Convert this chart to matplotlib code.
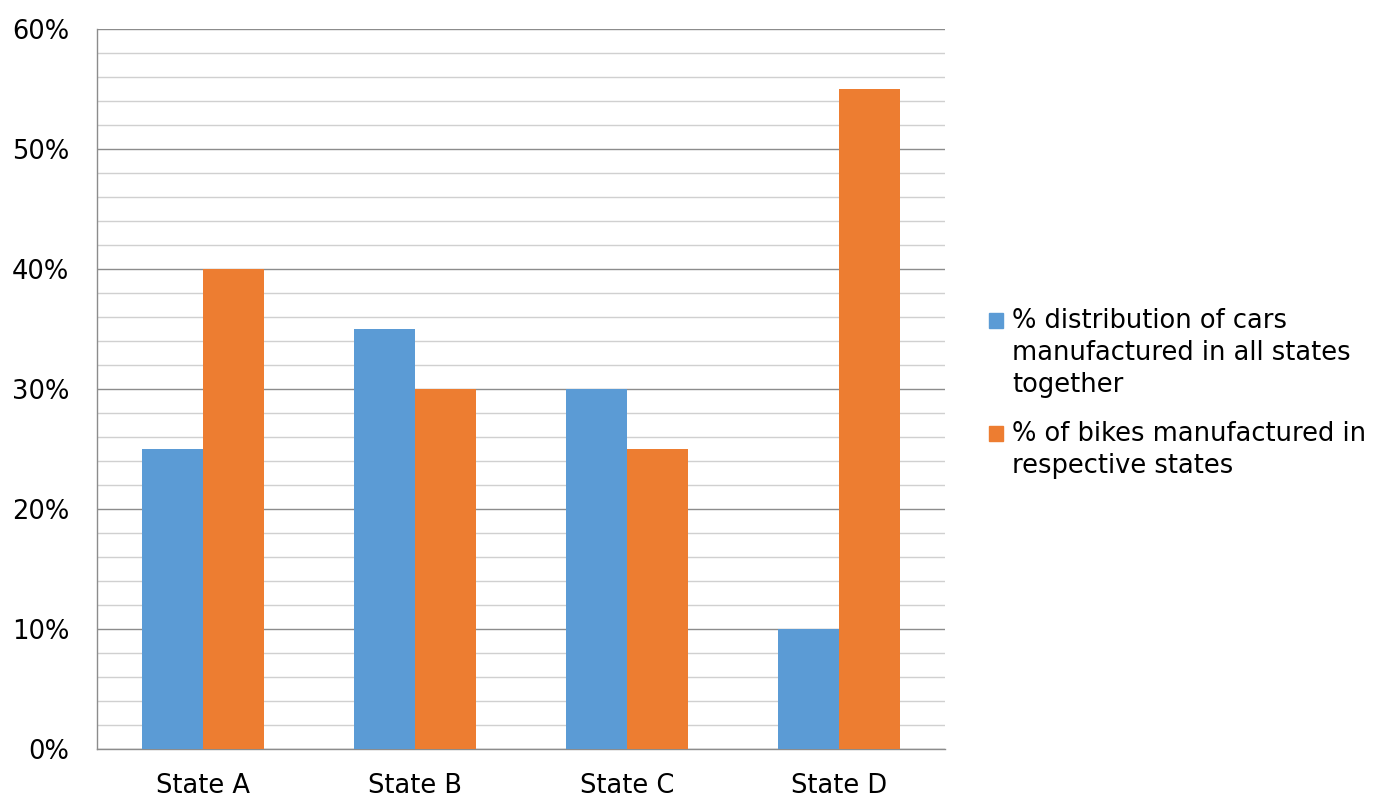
import matplotlib
matplotlib.use("Agg")
import matplotlib.pyplot as plt
import numpy as np
from matplotlib.ticker import MultipleLocator, PercentFormatter
from matplotlib.patches import Rectangle

categories = ["State A", "State B", "State C", "State D"]
cars = [25, 35, 30, 10]
bikes = [40, 30, 25, 55]
labels = ["% distribution of cars\nmanufactured in all states\ntogether",
          "% of bikes manufactured in\nrespective states"]
colors = ["#5B9BD5", "#ED7D31"]

plt.rcParams['font.family'] = ['DejaVu Sans']
W, H = 1383, 798
fig = plt.figure(figsize=(W/100, H/100), dpi=100)
ax = fig.add_axes([97/W, 1-749/H, (945-97)/W, (749-29)/H])

x = np.arange(len(categories))
w = 0.29
ax.bar(x - w/2, cars, w, color=colors[0], zorder=3)
ax.bar(x + w/2, bikes, w, color=colors[1], zorder=3)

ax.set_xlim(-0.5, 3.5)
ax.set_ylim(0, 60)
ax.yaxis.set_major_locator(MultipleLocator(10))
ax.yaxis.set_minor_locator(MultipleLocator(2))
ax.yaxis.set_major_formatter(PercentFormatter(decimals=0))
ax.grid(which='major', axis='y', color='#8c8c8c', linewidth=1.0, zorder=0)
ax.grid(which='minor', axis='y', color='#d0d0d0', linewidth=1.0, zorder=0)
ax.set_xticks(x)
ax.set_xticklabels(categories)
ax.tick_params(axis='both', which='both', length=0, labelsize=18.5, colors='#000000')
ax.tick_params(axis='y', pad=20)
ax.tick_params(axis='x', pad=17)
for s in ['top', 'right']:
    ax.spines[s].set_visible(False)
for s in ['left', 'bottom']:
    ax.spines[s].set_color('#8c8c8c')
    ax.spines[s].set_linewidth(1.0)

# manual legend (handle aligned with first text line, as in reference)
entry_tops = [321, 434]
line_step = 32
for lab, col, y0 in zip(labels, colors, entry_tops):
    fig.patches.append(Rectangle((989/W, 1-(y0+7)/H), 14/W, 15/H,
                                 transform=fig.transFigure, color=col))
    for i, line in enumerate(lab.split("\n")):
        fig.text(1012/W, 1-(y0+i*line_step)/H, line, fontsize=18.5,
                 va='center', ha='left', color='#000000')

fig.savefig("out.png", dpi=100)
